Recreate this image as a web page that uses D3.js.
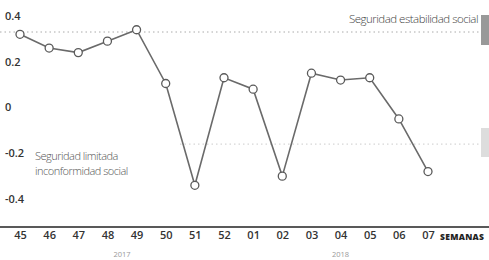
<!DOCTYPE html>
<html>
<head>
<meta charset="utf-8">
<script src="https://cdn.jsdelivr.net/npm/d3@7"></script>
<style>
  body { margin: 0; background: #fff; }
  svg { display: block; font-family: "Open Sans", sans-serif; }
</style>
</head>
<body>
<svg id="chart" width="489" height="260"></svg>
<script>
// weeks and index values
var weeks = ["45","46","47","48","49","50","51","52","01","02","03","04","05","06","07"];
var values = [0.32, 0.26, 0.24, 0.29, 0.34, 0.105, -0.34, 0.13, 0.08, -0.30, 0.15, 0.12, 0.13, -0.05, -0.28];
var yTicks = [0.4, 0.2, 0, -0.2, -0.4];
var years = [{label: "2017", at: "49", shift: -0.5}, {label: "2018", at: "04", shift: 0}];
var upperLine = 0.33;
var lowerLine = -0.16;

var width = 489, height = 260;
var svg = d3.select("#chart");

var x = d3.scalePoint().domain(weeks).range([20, 428]);
var y = d3.scaleLinear().domain([-0.4, 0.4]).range([199, 16]);

// y labels (no axis line), plain hyphen for negatives like the print
svg.append("g").selectAll("text").data(yTicks).enter().append("text")
  .attr("x", 5)
  .attr("y", function(d) { return y(d); })
  .attr("dy", "0.35em")
  .attr("font-size", 11).attr("font-weight", 600)
  .attr("fill", "#333")
  .text(function(d) { return d === 0 ? "0" : d.toFixed(1); });

// reference dotted lines
svg.append("line")
  .attr("x1", 0).attr("x2", 480)
  .attr("y1", y(upperLine)).attr("y2", y(upperLine))
  .attr("stroke", "#aaa").attr("stroke-width", 1).attr("stroke-dasharray", "1.5,3");
svg.append("line")
  .attr("x1", 180).attr("x2", 480)
  .attr("y1", y(lowerLine)).attr("y2", y(lowerLine))
  .attr("stroke", "#ccc").attr("stroke-width", 1).attr("stroke-dasharray", "1.5,3");

// little grey markers on the right edge
svg.append("rect").attr("x", 481).attr("y", 15).attr("width", 8).attr("height", 30).attr("fill", "#999");
svg.append("rect").attr("x", 481).attr("y", 128).attr("width", 8).attr("height", 29).attr("fill", "#ddd");

svg.append("text")
  .attr("x", 478).attr("y", 23)
  .attr("text-anchor", "end")
  .attr("font-size", 11.5).attr("font-weight", 300)
  .attr("fill", "#444").attr("letter-spacing", -0.5)
  .text("Seguridad estabilidad social");

var low = svg.append("text")
  .attr("font-size", 11).attr("font-weight", 300)
  .attr("fill", "#555").attr("letter-spacing", -0.5);
low.append("tspan").attr("x", 35).attr("y", 160).text("Seguridad limitada");
low.append("tspan").attr("x", 35).attr("y", 175).text("inconformidad social");

// bottom axis
var xAxis = svg.append("g").attr("transform", "translate(0,227)")
  .call(d3.axisBottom(x).tickSize(0).tickPadding(4));
xAxis.select(".domain").remove();
xAxis.selectAll("text")
  .attr("font-size", 11).attr("fill", "#333").attr("font-weight", 600)
  .attr("font-family", "Open Sans, sans-serif");
svg.append("line")
  .attr("x1", 0).attr("x2", width)
  .attr("y1", 227).attr("y2", 227)
  .attr("stroke", "#222").attr("stroke-width", 1.6);

svg.append("text")
  .attr("x", 440).attr("y", 240)
  .attr("font-size", 8.5).attr("font-weight", 800)
  .attr("fill", "#222").attr("letter-spacing", 0.3)
  .text("SEMANAS");

svg.append("g").selectAll("text").data(years).enter().append("text")
  .attr("x", function(d) { return x(d.at) + d.shift * x.step(); })
  .attr("y", 257)
  .attr("text-anchor", "middle")
  .attr("font-size", 7.5).attr("fill", "#999")
  .text(function(d) { return d.label; });

// line + points
var line = d3.line()
  .x(function(d, i) { return x(weeks[i]); })
  .y(function(d) { return y(d); });

svg.append("path")
  .datum(values)
  .attr("d", line)
  .attr("fill", "none")
  .attr("stroke", "#6a6a6a")
  .attr("stroke-width", 1.6);

svg.append("g").selectAll("circle").data(values).enter().append("circle")
  .attr("cx", function(d, i) { return x(weeks[i]); })
  .attr("cy", function(d) { return y(d); })
  .attr("r", 4)
  .attr("fill", "#fff")
  .attr("stroke", "#5a5a5a")
  .attr("stroke-width", 1.3);
</script>
</body>
</html>
